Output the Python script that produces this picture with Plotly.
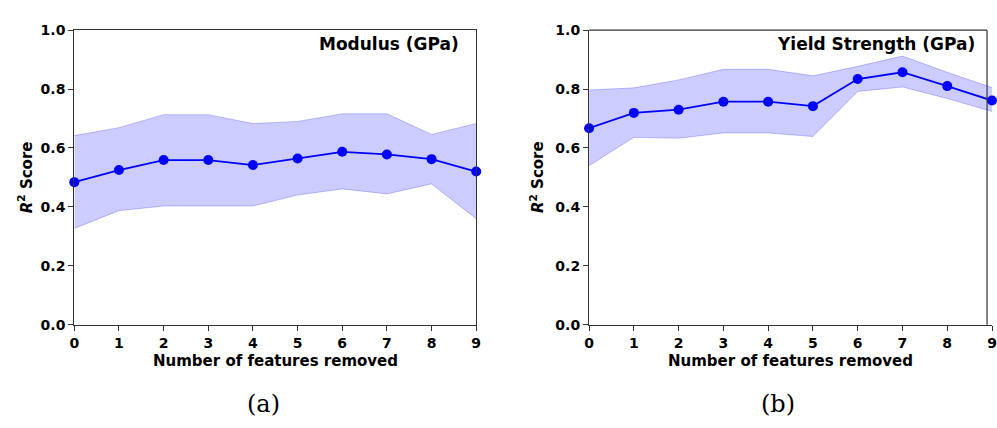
import plotly.graph_objects as go

# Feature-removal study: mean R^2 and spread for two target properties
features_removed = [0, 1, 2, 3, 4, 5, 6, 7, 8, 9]

modulus_mean = [0.484, 0.525, 0.559, 0.559, 0.542, 0.564, 0.587, 0.578, 0.562, 0.520]
modulus_upper = [0.642, 0.669, 0.713, 0.713, 0.683, 0.690, 0.716, 0.716, 0.646, 0.683]
modulus_lower = [0.327, 0.387, 0.403, 0.403, 0.403, 0.440, 0.461, 0.444, 0.478, 0.360]

yield_mean = [0.667, 0.719, 0.730, 0.757, 0.757, 0.742, 0.834, 0.857, 0.810, 0.761]
yield_upper = [0.797, 0.804, 0.831, 0.867, 0.867, 0.845, 0.877, 0.912, 0.857, 0.805]
yield_lower = [0.540, 0.636, 0.633, 0.651, 0.651, 0.639, 0.792, 0.807, 0.768, 0.724]

panel_titles = ["Modulus (GPa)", "Yield Strength (GPa)"]
panel_captions = ["(a)", "(b)"]
y_ticks = [0.0, 0.2, 0.4, 0.6, 0.8, 1.0]

W, H = 997, 428
FONT = "DejaVu Sans"
BAND_FILL = "rgba(0,0,255,0.2)"
BAND_EDGE = "rgba(0,0,255,0.22)"
BLUE = "#0000ff"
AX = "#333333"

fig = go.Figure()

panels = [
    (modulus_mean, modulus_upper, modulus_lower, "x", "y"),
    (yield_mean, yield_upper, yield_lower, "x2", "y2"),
]

for mean, upper, lower, xa, ya in panels:
    fig.add_trace(go.Scatter(
        x=features_removed, y=lower, mode="lines",
        line=dict(color=BAND_EDGE, width=1), xaxis=xa, yaxis=ya,
        showlegend=False, hoverinfo="skip"))
    fig.add_trace(go.Scatter(
        x=features_removed, y=upper, mode="lines", fill="tonexty",
        fillcolor=BAND_FILL, line=dict(color=BAND_EDGE, width=1),
        xaxis=xa, yaxis=ya, showlegend=False, hoverinfo="skip"))
    fig.add_trace(go.Scatter(
        x=features_removed, y=mean, mode="lines+markers",
        line=dict(color=BLUE, width=1.8), marker=dict(color=BLUE, size=10),
        xaxis=xa, yaxis=ya, showlegend=False, cliponaxis=False))

y_dom = [(H - 329) / H, (H - 23) / H]
x_doms = [[70 / W, 476 / W], [590 / W, 997 / W]]

tickfont = dict(family=FONT, size=14, color="black", weight="bold")
common_x = dict(range=[0, 9], tickvals=features_removed, ticks="outside",
                ticklen=5, tickcolor=AX, showline=True, linecolor=AX,
                linewidth=1.2, showgrid=False, zeroline=False,
                tickfont=tickfont)
common_y = dict(range=[0, 1.0], tickvals=y_ticks, ticktext=[f"{v:.1f}" for v in y_ticks],
                ticks="outside", ticklen=5, tickcolor=AX, showline=True,
                linecolor=AX, linewidth=1.2, showgrid=False,
                zeroline=False, tickfont=tickfont, domain=y_dom)

fig.update_layout(
    width=W, height=H, margin=dict(l=0, r=0, t=0, b=0),
    paper_bgcolor="white", plot_bgcolor="white",
    xaxis=dict(domain=x_doms[0], anchor="y", mirror=True, **common_x),
    yaxis=dict(anchor="x", mirror=True, **common_y),
    xaxis2=dict(domain=x_doms[1], anchor="y2", mirror=False, **common_x),
    yaxis2=dict(anchor="x2", mirror=False, **common_y),
)

# the right panel's frame closes a few pixels inside the page edge
frame_right = 992 / W
fig.add_shape(type="line", xref="paper", yref="paper",
              x0=x_doms[1][0], x1=frame_right, y0=y_dom[1], y1=y_dom[1],
              line=dict(color=AX, width=1.2), layer="above")
fig.add_shape(type="line", xref="paper", yref="paper",
              x0=frame_right, x1=frame_right, y0=y_dom[0], y1=y_dom[1],
              line=dict(color=AX, width=1.2), layer="above")

label_font = dict(family=FONT, size=15, color="black", weight="bold")
title_font = dict(family=FONT, size=17, color="black", weight="bold")

title_right = [461, 982]
xtitle_x = [273, 793]
ytitle_x = [21, 538]
caption_x = [261, 781]

for i in range(2):
    # panel title inside the plot area, upper right
    fig.add_annotation(text=panel_titles[i], xref="paper", yref="paper",
                       x=title_right[i] / W, y=(H - 37) / H,
                       xanchor="right", yanchor="middle", showarrow=False,
                       font=title_font)
    # x axis title
    fig.add_annotation(text="Number of features removed", xref="paper", yref="paper",
                       x=xtitle_x[i] / W, y=(H - 367) / H,
                       xanchor="center", yanchor="middle",
                       showarrow=False, font=label_font)
    # y axis title
    fig.add_annotation(text="<i>R</i><sup>2</sup> Score", xref="paper", yref="paper",
                       x=ytitle_x[i] / W, y=(H - 176) / H, textangle=-90,
                       xanchor="center", yanchor="middle", showarrow=False,
                       font=label_font)
    # sub-figure caption
    fig.add_annotation(text=panel_captions[i], xref="paper", yref="paper",
                       x=caption_x[i] / W, y=(H - 411) / H,
                       xanchor="center", yanchor="middle", showarrow=False,
                       font=dict(family="DejaVu Serif", size=24, color="black"))

fig.write_html("out.html")
